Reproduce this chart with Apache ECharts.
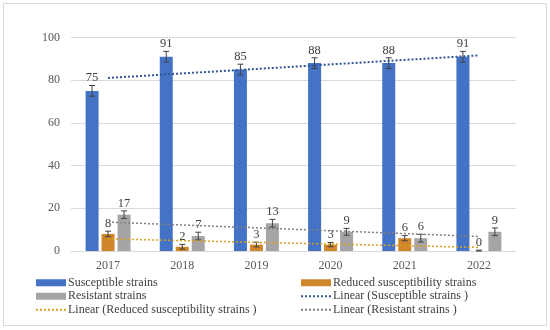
<!DOCTYPE html>
<html><head><meta charset="utf-8">
<script src="https://cdn.jsdelivr.net/npm/echarts@6/dist/echarts.min.js"></script>
<style>html,body{margin:0;padding:0;background:#fff}#c{width:550px;height:330px}</style>
</head><body><div id="c"></div>
<script>
var years = ['2017','2018','2019','2020','2021','2022'];
var susceptible = [75, 91, 85, 88, 88, 91];
var reduced = [8, 2, 3, 3, 6, 0];
var resistant = [17, 7, 13, 9, 6, 9];
var susceptibleErr = [2.5, 2.5, 2.5, 2.5, 2.5, 2.5];
var reducedErr = [1.3, 1.1, 1.1, 1.0, 1.2, 0.4];
var resistantErr = [1.8, 1.8, 1.8, 1.6, 1.8, 1.8];
var yTicks = [0, 20, 40, 60, 80, 100];

var names = ['Susceptible strains','Reduced susceptibility strains','Resistant strains'];
var trendNames = ['Linear (Susceptible strains )','Linear (Reduced susceptibility strains )','Linear (Resistant strains )'];
var FONT = '"Liberation Serif", serif';

function linFit(v){
  var n=v.length, mx=0, my=0, i;
  for(i=0;i<n;i++){mx+=i;my+=v[i];}
  mx/=n; my/=n;
  var sxy=0,sxx=0;
  for(i=0;i<n;i++){sxy+=(i-mx)*(v[i]-my);sxx+=(i-mx)*(i-mx);}
  var b=sxy/sxx, a=my-b*mx;
  return v.map(function(_,k){return a+b*k;});
}

var colors = ['#4472C4','#D0862A','#A5A5A5'];
var trendColors = ['#2F5597','#D9A21E','#7F7F7F'];
var BW = 13, STEP = 16;

function errSeries(vals, errs, idx){
  return {
    type:'custom', z:5, silent:true,
    data: vals.map(function(v,i){return [i, v, errs[i]];}),
    renderItem: function(params, api){
      var i=api.value(0), v=api.value(1), e=api.value(2);
      var off=(idx-1)*STEP;
      var top=api.coord([i, v+e]), bot=api.coord([i, Math.max(v-e,0)]);
      var x=top[0]+off;
      var st={stroke:'#404040', lineWidth:1};
      return {type:'group', children:[
        {type:'line', shape:{x1:x,y1:top[1],x2:x,y2:bot[1]}, style:st},
        {type:'line', shape:{x1:x-3,y1:top[1],x2:x+3,y2:top[1]}, style:st},
        {type:'line', shape:{x1:x-3,y1:bot[1],x2:x+3,y2:bot[1]}, style:st},
        {type:'text', x:x, y:top[1]-1, style:{text:String(v), fill:'#404040', font:'12.5px '+FONT, align:'center', verticalAlign:'bottom'}}
      ]};
    }
  };
}

var barData=[susceptible,reduced,resistant];
var errData=[susceptibleErr,reducedErr,resistantErr];
var series=[];
barData.forEach(function(d,k){
  series.push({name:names[k], type:'bar', data:d, barWidth:BW, barGap:'23%', itemStyle:{color:colors[k]}});
});
barData.forEach(function(d,k){
  series.push({name:trendNames[k], type:'line', data:linFit(d), symbol:'none', z:6,
    lineStyle:{color:trendColors[k], width:k===0?2:1.5, type:[2,2]}, itemStyle:{color:trendColors[k]}});
});
barData.forEach(function(d,k){ series.push(errSeries(d, errData[k], k)); });

function mkLegend(left, items){
  return {orient:'vertical', left:left, top:276, width:250, height:44, itemWidth:30, itemHeight:7, itemGap:0,
    padding:0, textStyle:{fontFamily:FONT, fontSize:12, color:'#404040', lineHeight:13.5, padding:[0,0,0,-3]},
    data:items};
}
function lineItem(n){ return {name:n, itemStyle:{opacity:0}}; }

var chart = echarts.init(document.getElementById('c'), null, {renderer:'canvas'});
chart.setOption({
  animation:false,
  color:colors,
  grid:{left:71, right:34, top:37.5, bottom:79},
  xAxis:{type:'category', data:years, axisTick:{show:false},
    axisLine:{lineStyle:{color:'#D9D9D9'}},
    axisLabel:{fontFamily:FONT, fontSize:12, color:'#595959', margin:9}},
  yAxis:{type:'value', min:yTicks[0], max:yTicks[yTicks.length-1], interval:20,
    splitLine:{lineStyle:{color:'#D9D9D9'}}, axisLine:{show:false}, axisTick:{show:false},
    axisLabel:{fontFamily:FONT, fontSize:12, color:'#595959', margin:11}},
  legend:[
    mkLegend(35, [{name:names[0], icon:'rect'}, {name:names[2], icon:'rect'}, lineItem(trendNames[1])]),
    mkLegend(300, [{name:names[1], icon:'rect'}, lineItem(trendNames[0]), lineItem(trendNames[2])])
  ],
  graphic:[{type:'rect', shape:{x:3.5,y:3.5,width:543,height:322}, style:{fill:'none', stroke:'#D9D9D9', lineWidth:1}, silent:true}],
  series:series
});
</script></body></html>
